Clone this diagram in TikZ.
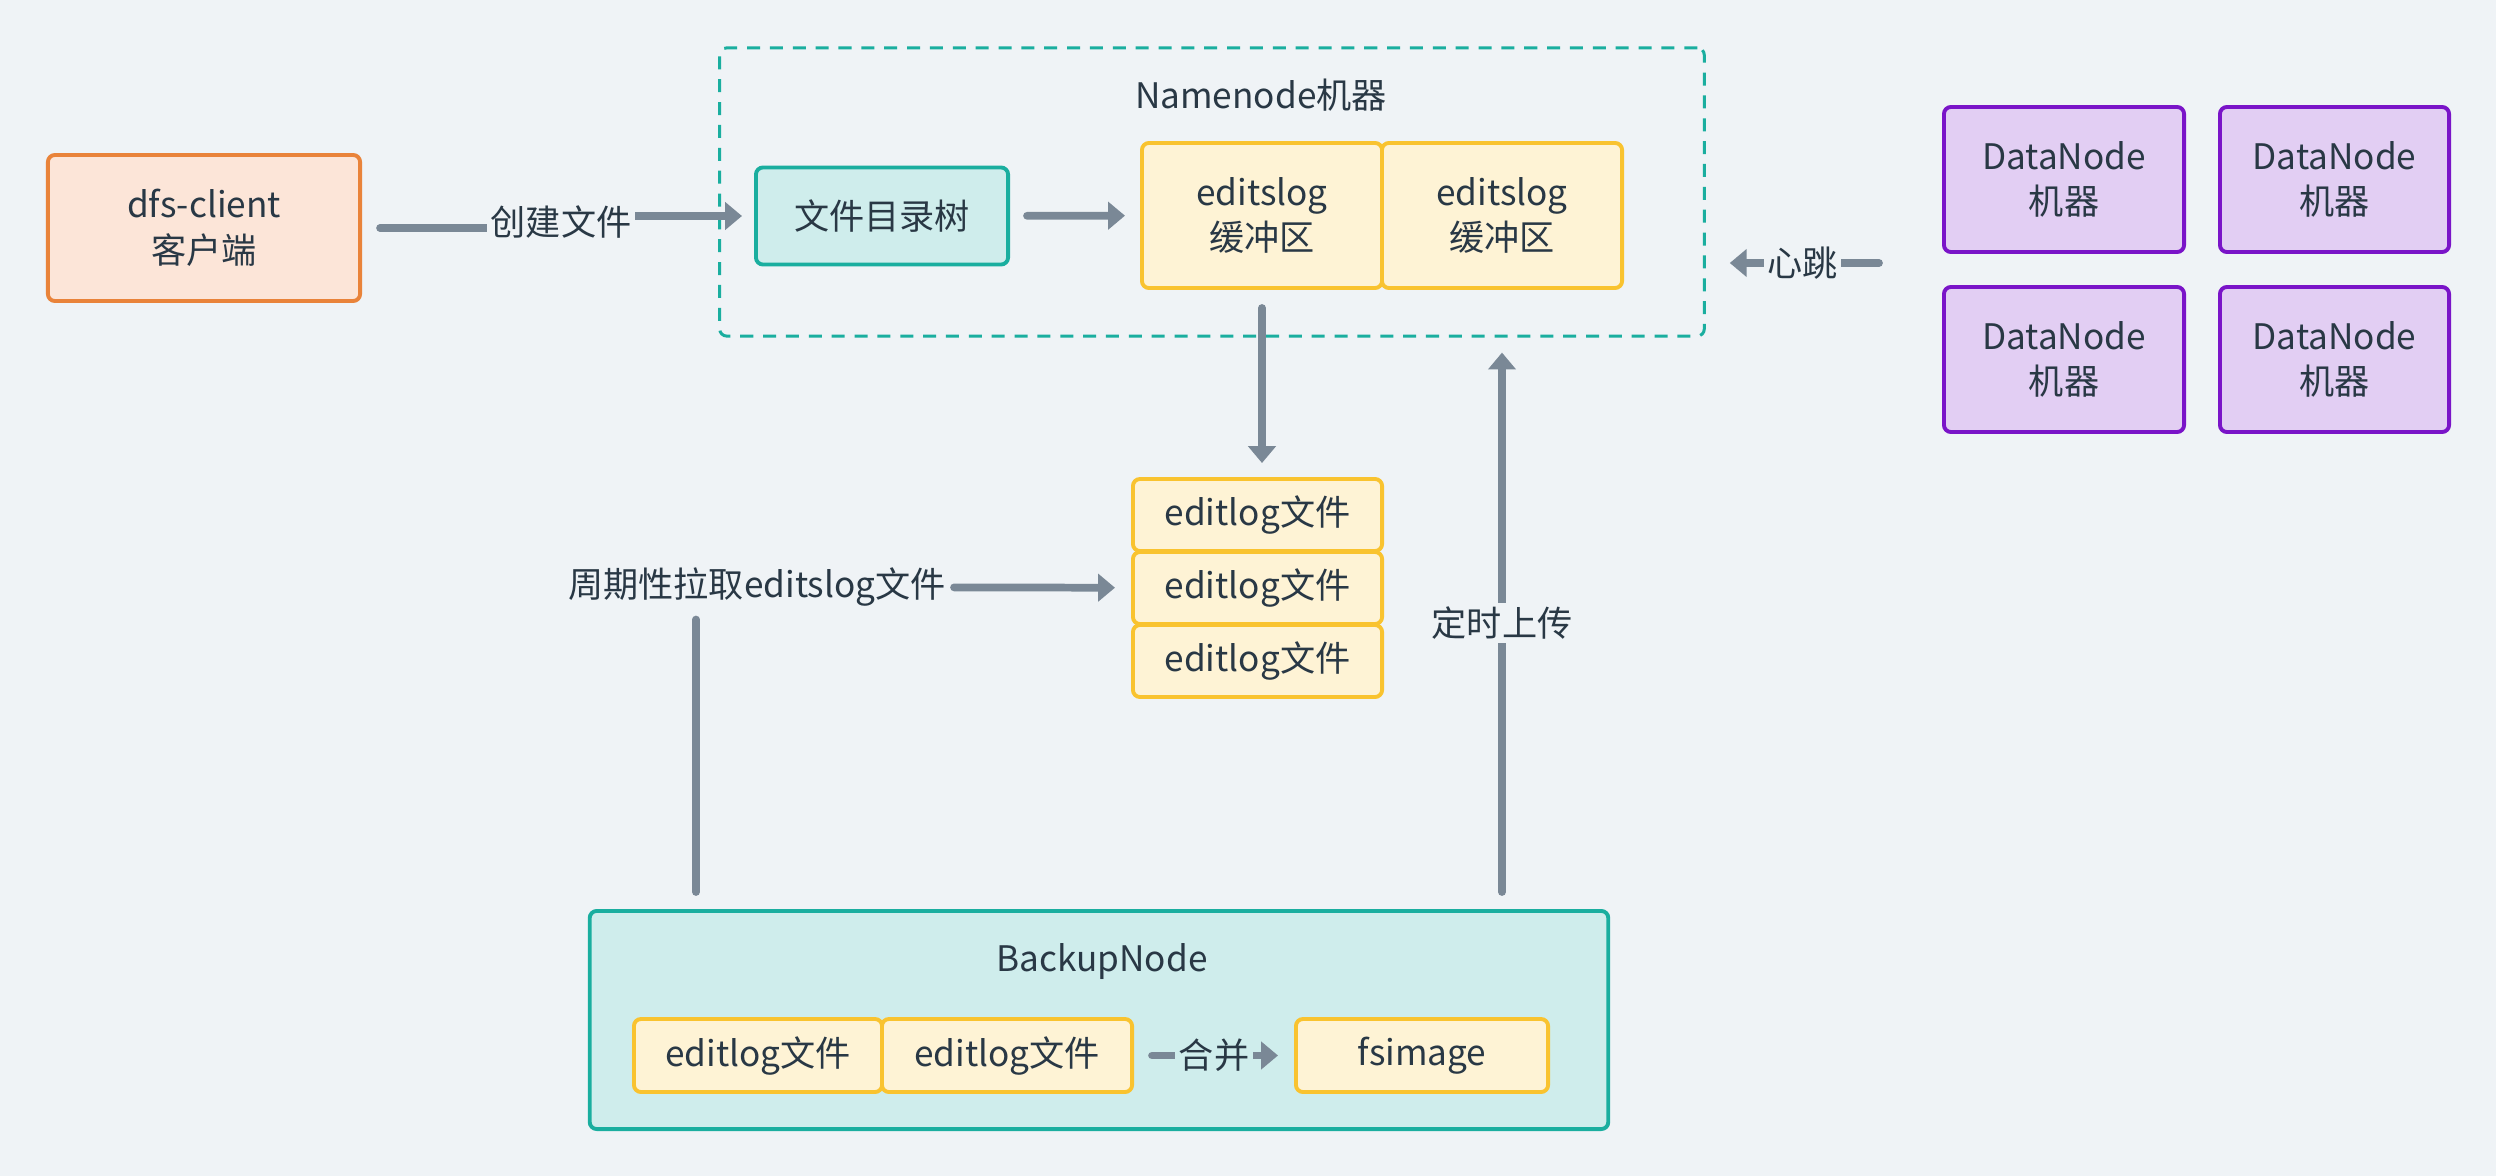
\documentclass[tikz,border=0pt]{standalone}
\usepackage{fontspec}
\setmainfont{Noto Sans CJK SC}
\usetikzlibrary{arrows.meta}

\definecolor{bg}{HTML}{EFF3F6}
\definecolor{ink}{HTML}{293845}
\definecolor{wire}{HTML}{7A8896}
\definecolor{orangeline}{HTML}{E9833A}
\definecolor{orangefill}{HTML}{FCE5D8}
\definecolor{tealline}{HTML}{1AAE9F}
\definecolor{tealfill}{HTML}{CFEDEC}
\definecolor{goldline}{HTML}{F9C32F}
\definecolor{goldfill}{HTML}{FEF3D5}
\definecolor{violetline}{HTML}{7A14C8}
\definecolor{violetfill}{HTML}{E2CEF3}

\begin{document}
\begin{tikzpicture}[
    x=0.01cm, y=-0.01cm,
    txt/.style={font=\fontsize{10pt}{13pt}\selectfont,text=ink,align=center},
    box/.style={txt,rectangle,rounded corners=2pt,line width=1.1pt,minimum width=2.4cm,minimum height=1.45cm,inner sep=0pt},
    clientbox/.style={box,draw=orangeline,fill=orangefill},
    treebox/.style={box,draw=tealline,fill=tealfill},
    buffer/.style={box,draw=goldline,fill=goldfill},
    logfile/.style={buffer,minimum width=2.49cm,minimum height=0.72cm},
    machine/.style={box,draw=violetline,fill=violetfill},
    nnframe/.style={draw=tealline,line width=0.85pt,dash pattern=on 3.7pt off 2.8pt,rounded corners=2pt,inner sep=0pt},
    groupbox/.style={draw=tealline,fill=tealfill,line width=1.1pt,rounded corners=2pt,inner sep=0pt},
    flow/.style={draw=wire,line width=2.2pt,line cap=round,-{Triangle[length=4.8pt,width=7.7pt]}},
    link/.style={draw=wire,line width=2.2pt,line cap=round},
    lbl/.style={txt,fill=bg,inner sep=1pt}
]
    % canvas
    \fill[bg] (0,0) rectangle (2496,1176);

    % Containers: namenode machine (dashed) and backup node
    \node[nnframe,minimum width=9.84cm,minimum height=2.88cm] (nn) at (1212,192) {};
    \node[txt] (nntitle) at (1261,95) {Namenode机器};
    \node[groupbox,minimum width=10.18cm,minimum height=2.18cm] (backup) at (1099,1020) {};
    \node[txt] (bntitle) at (1102,962) {BackupNode};

    % Client and namenode parts
    \node[clientbox,minimum width=3.12cm,minimum height=1.46cm] (client) at (204,228) {dfs-client\\客户端};
    \node[treebox,minimum width=2.52cm,minimum height=0.97cm] (tree) at (882,216) {文件目录树};
    \node[buffer] (buf1) at (1262,215.5) {editslog\\缓冲区};
    \node[buffer] (buf2) at (1502,215.5) {editslog\\缓冲区};

    % DataNode machines (2x2)
    \node[machine]                     (dn1) at (2064,179.5)   {DataNode\\机器};
    \node[machine,minimum width=2.29cm] (dn2) at (2334.5,179.5) {DataNode\\机器};
    \node[machine]                     (dn3) at (2064,359.5)   {DataNode\\机器};
    \node[machine,minimum width=2.29cm] (dn4) at (2334.5,359.5) {DataNode\\机器};

    % editlog files on disk
    \node[logfile] (s1) at (1257.5,515) {editlog文件};
    \node[logfile] (s2) at (1257.5,588) {editlog文件};
    \node[logfile] (s3) at (1257.5,661) {editlog文件};

    % Inside backup node
    \node[logfile,minimum width=2.48cm,minimum height=0.73cm] (eb1) at (758,1055.5)  {editlog文件};
    \node[logfile,minimum width=2.50cm,minimum height=0.73cm] (eb2) at (1007,1055.5) {editlog文件};
    \node[logfile,minimum width=2.52cm,minimum height=0.73cm] (fsimage) at (1422,1055.5) {fsimage};

    % helper points
    \coordinate (jog)    at (561,222);
    \coordinate (pullx)  at (696,0);
    \coordinate (upx)    at (1502,0);
    \coordinate (dnport) at (1879,263);

    % Connectors
    \draw[flow,shorten <=0.18cm,shorten >=0.12cm] (client) -| (jog) |- (tree);
    \node[lbl] (create) at (jog) {创建文件};
    \draw[flow,shorten <=0.17cm,shorten >=0.15cm] (tree) -- (buf1);
    \draw[flow,shorten <=0.18cm,shorten >=0.14cm] (buf1.south) -- (buf1.south |- s1.north);

    \node[lbl] (pull) at (757,587) {周期性拉取editslog文件};
    \draw[flow,shorten <=0.04cm,shorten >=0.16cm] (pull) -- (s2);
    \draw[link,shorten <=0.17cm,shorten >=0.09cm] (backup.north -| pullx) -- (pull.south -| pullx);

    \draw[flow,shorten <=0.17cm,shorten >=0.15cm] (backup.north -| upx) -- node[lbl] (upload) {定时上传} (nn.south -| upx);
    \draw[flow,shorten >=0.24cm] (dnport) -- node[lbl,pos=0.44] (beat) {心跳} (dnport -| nn.east);
    \draw[flow,shorten <=0.18cm,shorten >=0.16cm] (eb2) -- node[lbl,fill=tealfill] (merge) {合并} (fsimage);
\end{tikzpicture}
\end{document}
